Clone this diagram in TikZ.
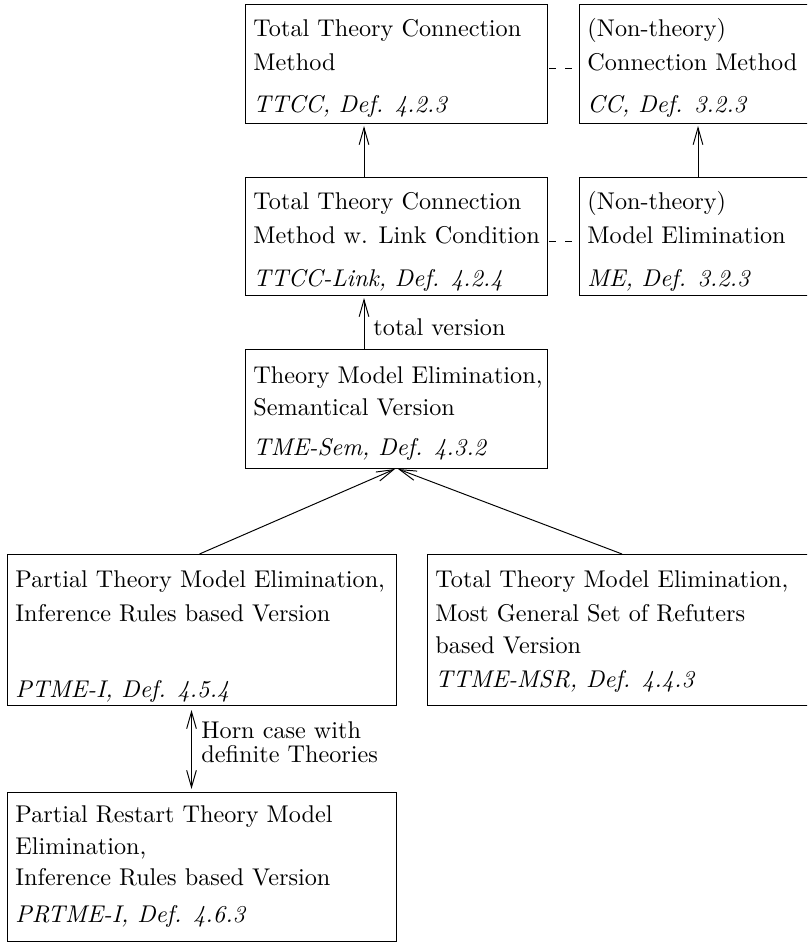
\documentclass[tikz,border=0pt]{standalone}
\usetikzlibrary{arrows.meta}
\newlength\upx
\setlength\upx{0.413pt}
\begin{document}
\begin{tikzpicture}[x=\upx,y=-\upx,
  box/.style n args={2}{draw, line width=0.4pt, minimum width=#1*\upx, minimum height=#2*\upx,
    anchor=north west, inner sep=0pt, outer sep=0pt},
  txt/.style={anchor=base west, inner sep=0pt, font=\normalsize},
  itxt/.style={txt, font=\normalsize\itshape},
  conn/.style={line width=0.4pt, -{Straight Barb[length=7pt,width=4pt]}},
  biconn/.style={line width=0.4pt, {Straight Barb[length=7pt,width=4pt]}-{Straight Barb[length=7pt,width=4pt]}},
  dashline/.style={line width=0.4pt, dash pattern=on 7\upx off 9\upx}]
\useasboundingbox (0,0) rectangle (807,945);
\clip (0,0) rectangle (807,945);

% boxes
\node[box={302}{119}] (ttcc) at (245,4) {};
\node[box={240}{119}] (cc) at (579,4) {};
\node[box={302}{118}] (link) at (245,177) {};
\node[box={240}{118}] (me) at (579,177) {};
\node[box={302}{119}] (sem) at (245,349) {};
\node[box={389}{151}] (ptme) at (7,554) {};
\node[box={400}{151}] (msr) at (427,554) {};
\node[box={389}{149}] (prtme) at (7,792) {};

% texts
\node[txt] (t1a) at (253,37) {Total Theory Connection};
\node[txt] (t1b) at (253,71) {Method};
\node[itxt] (t1c) at (253,113) {TTCC, Def. 4.2.3};

\node[txt] (t2a) at (587,37) {(Non-theory)};
\node[txt] (t2b) at (587,71) {Connection Method};
\node[itxt] (t2c) at (587,113) {CC, Def. 3.2.3};

\node[txt] (t3a) at (253,210) {Total Theory Connection};
\node[txt] (t3b) at (253,244) {Method w. Link Condition};
\node[itxt] (t3c) at (253,286) {TTCC-Link, Def. 4.2.4};

\node[txt] (t4a) at (587,210) {(Non-theory)};
\node[txt] (t4b) at (587,244) {Model Elimination};
\node[itxt] (t4c) at (587,286) {ME, Def. 3.2.3};

\node[txt] (t5a) at (253,383) {Theory Model Elimination,};
\node[txt] (t5b) at (253,415) {Semantical Version};
\node[itxt] (t5c) at (253,455) {TME-Sem, Def. 4.3.2};

\node[txt] (t6a) at (15,587) {Partial Theory Model Elimination,};
\node[txt] (t6b) at (15,621) {Inference Rules based Version};
\node[itxt] (t6c) at (15,697) {PTME-I, Def. 4.5.4};

\node[txt] (t7a) at (435,587) {Total Theory Model Elimination,};
\node[txt] (t7b) at (435,621) {Most General Set of Refuters};
\node[txt] (t7c) at (435,653) {based Version};
\node[itxt] (t7d) at (435,687) {TTME-MSR, Def. 4.4.3};

\node[txt] (t8a) at (15,822) {Partial Restart Theory Model};
\node[txt] (t8b) at (15,854) {Elimination,};
\node[txt] (t8c) at (15,885) {Inference Rules based Version};
\node[itxt] (t8d) at (15,922) {PRTME-I, Def. 4.6.3};

% connectors
\draw[conn] ([xshift=-32\upx]link.north) -- ([xshift=-32\upx,yshift=-3\upx]ttcc.south);
\draw[conn] ([xshift=119\upx]me.north west) -- ([xshift=119\upx,yshift=-3\upx]cc.south west);
\draw[conn] ([xshift=-32\upx]sem.north) -- ([xshift=-32\upx,yshift=-3\upx]link.south);
\node[txt] (lbl1) at (373,335) {total version};
\draw[conn] ([xshift=-2\upx]ptme.north) -- ([xshift=-1\upx,yshift=-1\upx]sem.south);
\draw[conn] ([xshift=-5\upx]msr.north) -- ([xshift=2\upx,yshift=-1\upx]sem.south);
\draw[biconn] ([xshift=-10\upx,yshift=-5\upx]ptme.south) -- ([xshift=-10\upx,yshift=3\upx]prtme.north);
\node[txt] (lbl2a) at (201,738) {Horn case with};
\node[txt] (lbl2b) at (201,762) {definite Theories};

\draw[dashline] ([shift={(2,4.5)}]ttcc.east) -- ([shift={(-6,4.5)}]cc.west);
\draw[dashline] ([shift={(2,5)}]link.east) -- ([shift={(-6,5)}]me.west);
\end{tikzpicture}
\end{document}
